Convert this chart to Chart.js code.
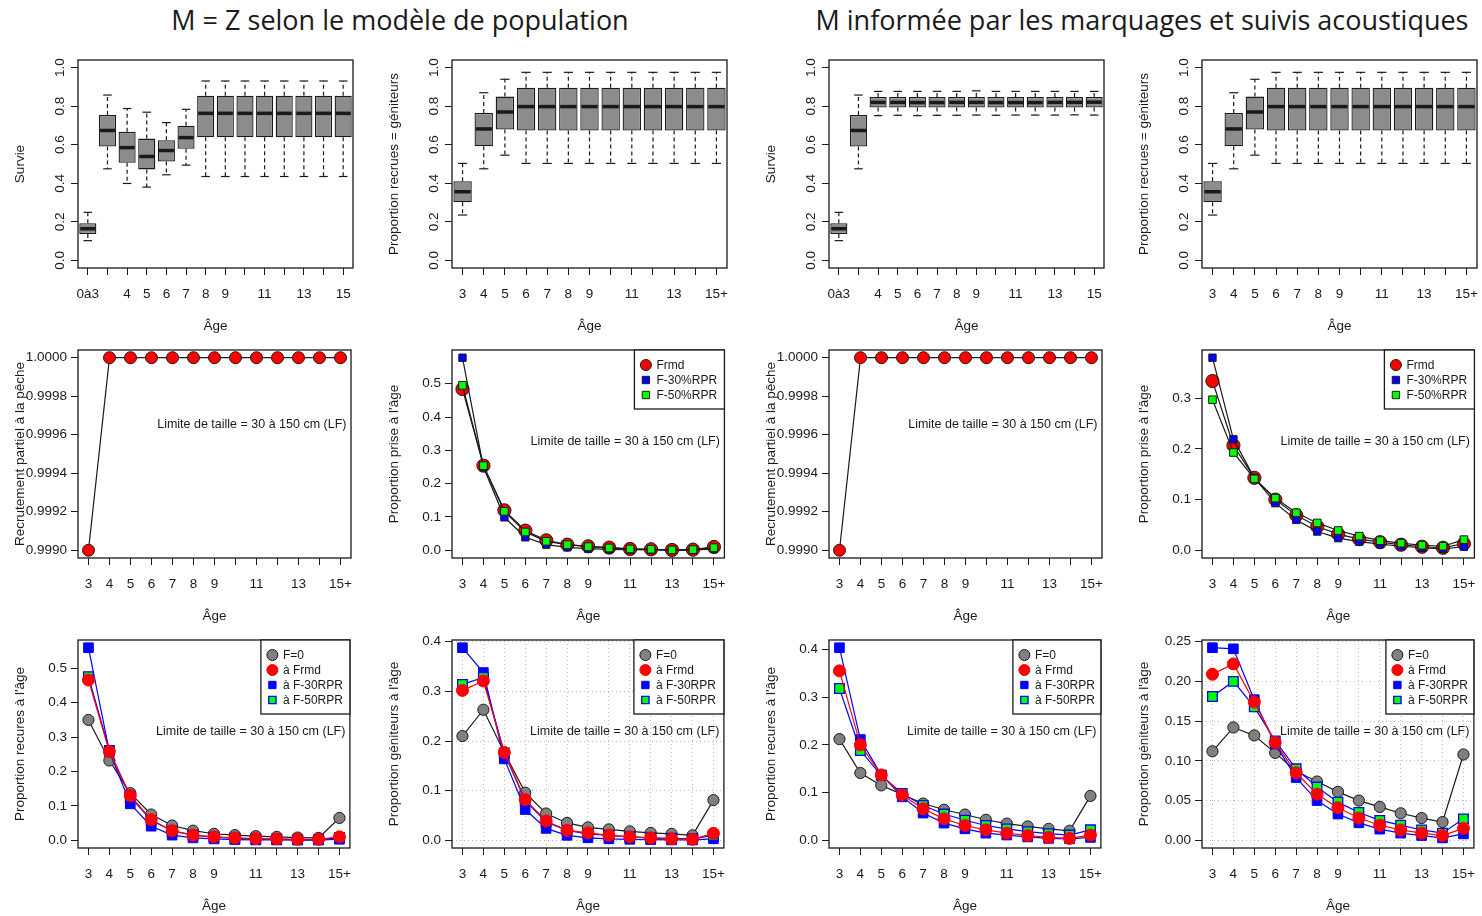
<!DOCTYPE html>
<html lang="fr">
<head>
<meta charset="utf-8">
<title>Survie, recrutement et proportions à l'âge</title>
<script src="https://cdn.jsdelivr.net/npm/chart.js@4.4.1/dist/chart.umd.min.js"></script>
<style>
  html, body { margin: 0; padding: 0; background: #fff; overflow: hidden; }
  body { width: 1482px; height: 916px; position: relative; }
  .title { position: absolute; top: 1px; font-family: "Open Sans", sans-serif; font-size: 27px; color: #1a1a1a; white-space: nowrap; transform: translateX(-50%); }
  .panel { position: absolute; width: 358px; height: 290px; }
</style>
</head>
<body>
<div class="title" style="left:400px">M = Z selon le modèle de population</div>
<div class="title" style="left:1142px">M informée par les marquages et suivis acoustiques</div>

<div class="panel" style="left:0;top:50px"><canvas id="p1"></canvas></div>
<div class="panel" style="left:374px;top:50px"><canvas id="p2"></canvas></div>
<div class="panel" style="left:751px;top:50px"><canvas id="p3"></canvas></div>
<div class="panel" style="left:1124px;top:50px"><canvas id="p4"></canvas></div>
<div class="panel" style="left:0;top:340px"><canvas id="p5"></canvas></div>
<div class="panel" style="left:374px;top:340px"><canvas id="p6"></canvas></div>
<div class="panel" style="left:751px;top:340px"><canvas id="p7"></canvas></div>
<div class="panel" style="left:1124px;top:340px"><canvas id="p8"></canvas></div>
<div class="panel" style="left:0;top:630px"><canvas id="p9"></canvas></div>
<div class="panel" style="left:374px;top:630px"><canvas id="p10"></canvas></div>
<div class="panel" style="left:751px;top:630px"><canvas id="p11"></canvas></div>
<div class="panel" style="left:1124px;top:630px"><canvas id="p12"></canvas></div>

<script>
// Categories and tick labels
const ageSurv = ['0à3', '3', '4', '5', '6', '7', '8', '9', '10', '11', '12', '13', '14', '15'];
const ageSurvShown = ['0à3', '4', '5', '6', '7', '8', '9', '11', '13', '15'];
const ages = ['3', '4', '5', '6', '7', '8', '9', '10', '11', '12', '13', '14', '15+'];
const agesShown = ['3', '4', '5', '6', '7', '8', '9', '11', '13', '15+'];

const ticksUnit = [0, 0.2, 0.4, 0.6, 0.8, 1.0];
const ticksSel = [0.9990, 0.9992, 0.9994, 0.9996, 0.9998, 1.0000];
const ticks05 = [0, 0.1, 0.2, 0.3, 0.4, 0.5];
const ticks04 = [0, 0.1, 0.2, 0.3, 0.4];
const ticks03 = [0, 0.1, 0.2, 0.3];
const ticks025 = [0, 0.05, 0.10, 0.15, 0.20, 0.25];

// Survie, M = Z (boxplots)
const survZ_min = [0.102, 0.475, 0.399, 0.380, 0.444, 0.494, 0.435, 0.435, 0.435, 0.435, 0.435, 0.435, 0.435, 0.435];
const survZ_q1 = [0.136, 0.591, 0.506, 0.472, 0.513, 0.579, 0.639, 0.639, 0.639, 0.639, 0.639, 0.639, 0.639, 0.639];
const survZ_med = [0.164, 0.674, 0.585, 0.539, 0.570, 0.637, 0.763, 0.763, 0.763, 0.763, 0.763, 0.763, 0.763, 0.763];
const survZ_q3 = [0.193, 0.755, 0.667, 0.632, 0.623, 0.699, 0.855, 0.855, 0.855, 0.855, 0.855, 0.855, 0.855, 0.855];
const survZ_max = [0.249, 0.858, 0.788, 0.769, 0.715, 0.784, 0.931, 0.931, 0.931, 0.931, 0.931, 0.931, 0.931, 0.931];

// Survie, M informée (boxplots)
const survM_min = [0.102, 0.475, 0.751, 0.753, 0.751, 0.753, 0.753, 0.754, 0.753, 0.754, 0.754, 0.754, 0.755, 0.754];
const survM_q1 = [0.136, 0.591, 0.793, 0.793, 0.793, 0.793, 0.793, 0.793, 0.793, 0.793, 0.793, 0.793, 0.793, 0.793];
const survM_med = [0.164, 0.674, 0.820, 0.820, 0.819, 0.819, 0.820, 0.820, 0.819, 0.819, 0.819, 0.820, 0.820, 0.821];
const survM_q3 = [0.193, 0.755, 0.848, 0.848, 0.848, 0.848, 0.848, 0.848, 0.848, 0.848, 0.848, 0.848, 0.848, 0.848];
const survM_max = [0.249, 0.858, 0.877, 0.877, 0.877, 0.877, 0.877, 0.880, 0.877, 0.877, 0.877, 0.877, 0.877, 0.877];

// Proportion recrues = géniteurs (boxplots, same in both scenarios)
const mat_min = [0.235, 0.475, 0.546, 0.503, 0.503, 0.503, 0.503, 0.503, 0.503, 0.503, 0.503, 0.503, 0.503];
const mat_q1 = [0.301, 0.592, 0.679, 0.674, 0.674, 0.674, 0.674, 0.674, 0.674, 0.674, 0.674, 0.674, 0.674];
const mat_med = [0.356, 0.682, 0.770, 0.798, 0.798, 0.798, 0.798, 0.798, 0.798, 0.798, 0.798, 0.798, 0.798];
const mat_q3 = [0.411, 0.765, 0.850, 0.896, 0.896, 0.896, 0.896, 0.896, 0.896, 0.896, 0.896, 0.896, 0.896];
const mat_max = [0.503, 0.870, 0.940, 0.976, 0.976, 0.976, 0.976, 0.976, 0.976, 0.976, 0.976, 0.976, 0.976];

// Recrutement partiel à la pêche
const selPartielle = [0.9990, 1, 1, 1, 1, 1, 1, 1, 1, 1, 1, 1, 1];

// Proportion prise à l'âge
const legendPrise = ['Frmd', 'F-30%RPR', 'F-50%RPR'];
const priseZ_Frmd = [0.484, 0.254, 0.120, 0.059, 0.030, 0.017, 0.012, 0.008, 0.004, 0.003, 0.001, 0.002, 0.010];
const priseZ_F30 = [0.578, 0.249, 0.099, 0.039, 0.017, 0.009, 0.005, 0.003, 0.002, 0.001, 0.0005, 0.0005, 0.004];
const priseZ_F50 = [0.495, 0.254, 0.117, 0.055, 0.027, 0.017, 0.011, 0.007, 0.004, 0.003, 0.001, 0.002, 0.008];
const priseM_Frmd = [0.334, 0.207, 0.143, 0.100, 0.069, 0.047, 0.032, 0.022, 0.016, 0.011, 0.007, 0.005, 0.013];
const priseM_F30 = [0.380, 0.219, 0.143, 0.093, 0.060, 0.037, 0.024, 0.017, 0.012, 0.008, 0.005, 0.003, 0.007];
const priseM_F50 = [0.297, 0.193, 0.141, 0.103, 0.074, 0.054, 0.039, 0.028, 0.019, 0.014, 0.010, 0.008, 0.021];

// Proportion recrues / géniteurs à l'âge
const legendStock = ['F=0', 'à Frmd', 'à F-30RPR', 'à F-50RPR'];
const recZ_F0 = [0.350, 0.232, 0.137, 0.075, 0.043, 0.028, 0.019, 0.015, 0.012, 0.010, 0.008, 0.007, 0.065];
const recZ_Frmd = [0.466, 0.258, 0.130, 0.060, 0.028, 0.015, 0.010, 0.007, 0.005, 0.004, 0.003, 0.003, 0.010];
const recZ_F30 = [0.560, 0.258, 0.106, 0.041, 0.015, 0.007, 0.004, 0.002, 0.001, 0.001, 0.0005, 0.0005, 0.003];
const recZ_F50 = [0.476, 0.261, 0.126, 0.058, 0.027, 0.015, 0.009, 0.006, 0.004, 0.003, 0.002, 0.002, 0.008];

const genZ_F0 = [0.210, 0.263, 0.177, 0.096, 0.054, 0.035, 0.026, 0.022, 0.018, 0.015, 0.013, 0.010, 0.081];
const genZ_Frmd = [0.302, 0.321, 0.177, 0.082, 0.039, 0.020, 0.015, 0.010, 0.007, 0.005, 0.003, 0.002, 0.014];
const genZ_F30 = [0.388, 0.338, 0.164, 0.062, 0.024, 0.010, 0.005, 0.003, 0.002, 0.0014, 0.0007, 0.0007, 0.003];
const genZ_F50 = [0.314, 0.328, 0.176, 0.080, 0.037, 0.020, 0.013, 0.010, 0.007, 0.005, 0.004, 0.003, 0.010];

const recM_F0 = [0.212, 0.141, 0.115, 0.096, 0.077, 0.064, 0.054, 0.043, 0.035, 0.029, 0.024, 0.020, 0.093];
const recM_Frmd = [0.355, 0.200, 0.137, 0.095, 0.066, 0.045, 0.031, 0.022, 0.015, 0.010, 0.006, 0.004, 0.011];
const recM_F30 = [0.4035, 0.211, 0.137, 0.091, 0.057, 0.036, 0.024, 0.015, 0.011, 0.007, 0.004, 0.003, 0.006];
const recM_F50 = [0.318, 0.188, 0.136, 0.098, 0.073, 0.055, 0.042, 0.031, 0.024, 0.018, 0.014, 0.011, 0.022];

const genM_F0 = [0.112, 0.142, 0.132, 0.110, 0.087, 0.074, 0.061, 0.050, 0.042, 0.034, 0.028, 0.023, 0.108];
const genM_Frmd = [0.209, 0.222, 0.174, 0.123, 0.085, 0.058, 0.041, 0.028, 0.019, 0.013, 0.009, 0.006, 0.015];
const genM_F30 = [0.2424, 0.241, 0.177, 0.121, 0.079, 0.050, 0.033, 0.022, 0.014, 0.009, 0.006, 0.003, 0.008];
const genM_F50 = [0.181, 0.200, 0.168, 0.125, 0.090, 0.067, 0.048, 0.035, 0.025, 0.019, 0.013, 0.009, 0.027];

const noteText = 'Limite de taille = 30 à 150 cm (LF)';

// ---- look ----
const INK = '#1a1a1a';
Chart.defaults.font.family = "'Liberation Sans', Arial, sans-serif";
Chart.defaults.font.size = 13.5;
Chart.defaults.color = INK;
Chart.defaults.animation = false;

// marker styles, R-like
const row2Styles = [
  { shape: 'circle', r: 6.6, fill: '#ff0000', edge: INK, bw: 1, line: INK, order: 2 },
  { shape: 'rect', r: 5.2, fill: '#0000ff', edge: INK, bw: 1, line: INK, order: 1 },
  { shape: 'rect', r: 5.4, fill: '#00ff00', edge: INK, bw: 1, line: INK, order: 0 }
];
const row3Styles = [
  { shape: 'circle', r: 5.6, fill: '#808080', edge: INK, bw: 1, line: INK, order: 3 },
  { shape: 'circle', r: 6, fill: '#ff0000', edge: '#ff0000', bw: 1, line: '#ff0000', order: 0 },
  { shape: 'rect', r: 6.8, fill: '#0000ff', edge: '#0000ff', bw: 1, line: '#0000ff', order: 2 },
  { shape: 'rect', r: 6.8, fill: '#00ff00', edge: '#0000ff', bw: 1.3, line: '#0000ff', order: 1 }
];

// R ylim: range extended by 4 %
function rLim(lo, hi) {
  const pad = (hi - lo) * 0.04;
  return [lo - pad, hi + pad];
}

// box around the plot region
const rFrame = {
  id: 'rFrame',
  afterDraw(chart) {
    const { ctx, chartArea: a } = chart;
    ctx.save();
    ctx.strokeStyle = INK;
    ctx.lineWidth = 1.3;
    ctx.strokeRect(a.left, a.top, a.right - a.left, a.bottom - a.top);
    ctx.restore();
  }
};

// whiskers, caps and median for the boxplot panels
const rBox = {
  id: 'rBox',
  afterDatasetsDraw(chart) {
    const ds = chart.data.datasets[0];
    if (!ds.stats) return;
    const { ctx } = chart;
    const y = chart.scales.y;
    const st = ds.stats;
    const seg = (x1, y1, x2, y2) => { ctx.beginPath(); ctx.moveTo(x1, y1); ctx.lineTo(x2, y2); ctx.stroke(); };
    ctx.save();
    ctx.strokeStyle = INK;
    chart.getDatasetMeta(0).data.forEach((bar, i) => {
      const cx = bar.x, half = bar.width / 2;
      const yMin = y.getPixelForValue(st.min[i]), yMax = y.getPixelForValue(st.max[i]);
      const yQ1 = y.getPixelForValue(st.q1[i]), yQ3 = y.getPixelForValue(st.q3[i]);
      ctx.lineWidth = 1.2;
      ctx.setLineDash([4, 3]);
      seg(cx, yQ3, cx, yMax);
      seg(cx, yQ1, cx, yMin);
      ctx.setLineDash([]);
      seg(cx - half * 0.5, yMax, cx + half * 0.5, yMax);
      seg(cx - half * 0.5, yMin, cx + half * 0.5, yMin);
      ctx.lineWidth = 3.5;
      const yMed = y.getPixelForValue(st.med[i]);
      seg(cx - half + 1, yMed, cx + half - 1, yMed);
    });
    ctx.restore();
  }
};

// R-style legend, top right inside the plot region
const rLegend = {
  id: 'rLegend',
  afterDraw(chart, args, opts) {
    if (!opts.show) return;
    const { ctx, chartArea: a } = chart;
    const items = chart.data.datasets;
    const h = 15 + (items.length - 1) * 15 + 14;
    const left = a.right - opts.width, top = a.top;
    ctx.save();
    ctx.fillStyle = '#fff';
    ctx.fillRect(left, top, opts.width, h);
    ctx.strokeStyle = INK;
    ctx.lineWidth = 1.3;
    ctx.strokeRect(left, top, opts.width, h);
    ctx.font = "12px 'Liberation Sans', Arial, sans-serif";
    ctx.textBaseline = 'middle';
    items.forEach((d, i) => {
      const cy = top + 15 + i * 15;
      ctx.fillStyle = d.pointBackgroundColor;
      ctx.strokeStyle = d.pointBorderColor;
      ctx.lineWidth = d.pointBorderWidth;
      Chart.helpers.drawPoint(ctx, { pointStyle: d.pointStyle, radius: d.legendRadius, rotation: 0, borderWidth: d.pointBorderWidth }, left + 11.5, cy);
      ctx.fillStyle = INK;
      ctx.fillText(d.label, left + 22, cy + 0.5);
    });
    ctx.restore();
  }
};

// text note inside the plot region
const rNote = {
  id: 'rNote',
  afterDraw(chart, args, opts) {
    if (!opts.text) return;
    const { ctx, chartArea: a } = chart;
    ctx.save();
    ctx.font = "12.5px 'Liberation Sans', Arial, sans-serif";
    ctx.fillStyle = INK;
    ctx.textAlign = 'right';
    ctx.textBaseline = 'middle';
    ctx.fillText(opts.text, a.right - 4.5, a.top + opts.dy);
    ctx.restore();
  }
};

function axisX(labels, shown, grid) {
  return {
    type: 'category',
    labels: labels,
    offset: true,
    z: grid ? 1 : 0,
    grid: { offset: false, drawOnChartArea: grid, color: '#bdbdbd', tickColor: INK, tickLength: 7, tickWidth: 1, tickBorderDash: [] },
    border: { display: false, dash: grid ? [1, 3] : [] },
    ticks: {
      autoSkip: false, minRotation: 0, maxRotation: 0, padding: 11,
      callback(v) { const l = this.getLabelForValue(v); return shown.includes(l) ? l : ''; }
    },
    title: { display: true, text: 'Âge', padding: { top: 0, bottom: 6 } },
    afterFit(s) { s.height = 72; s.paddingLeft = 0; s.paddingRight = 0; }
  };
}

function axisY(title, lim, tickVals, digits, rotate, grid) {
  return {
    type: 'linear',
    min: lim[0],
    max: lim[1],
    z: grid ? 1 : 0,
    afterBuildTicks(s) { s.ticks = tickVals.map(v => ({ value: v })); },
    grid: { drawOnChartArea: grid, color: '#bdbdbd', tickColor: INK, tickLength: 7, tickWidth: 1, tickBorderDash: [] },
    border: { display: false, dash: grid ? [1, 3] : [] },
    ticks: {
      autoSkip: false,
      minRotation: rotate ? 90 : 0,
      maxRotation: rotate ? 90 : 0,
      crossAlign: rotate ? 'center' : 'near',
      padding: rotate ? 1 : 4,
      callback: v => Number(v).toFixed(digits)
    },
    title: { display: true, text: title, padding: { top: 12, bottom: 0 } },
    afterFit(s) { s.width = 78; s.paddingTop = 0; s.paddingBottom = 0; }
  };
}

const baseOptions = () => ({
  responsive: true,
  maintainAspectRatio: false,
  events: [],
  layout: { padding: { top: 10, right: 5, bottom: 0, left: 0 } }
});

function boxChart(id, yTitle, labels, shown, stats) {
  const opts = baseOptions();
  opts.scales = { x: axisX(labels, shown, false), y: axisY(yTitle, rLim(0, 1), ticksUnit, 1, true, false) };
  opts.plugins = { legend: { display: false }, tooltip: { enabled: false } };
  new Chart(document.getElementById(id), {
    type: 'bar',
    data: {
      labels: labels,
      datasets: [{
        data: stats.q1.map((v, i) => [v, stats.q3[i]]),
        stats: stats,
        backgroundColor: '#8c8c8c',
        borderColor: INK,
        borderWidth: 1.3,
        borderSkipped: false,
        barPercentage: 0.87,
        categoryPercentage: 1
      }]
    },
    options: opts,
    plugins: [rFrame, rBox]
  });
}

function lineChart(id, cfg) {
  const opts = baseOptions();
  opts.scales = {
    x: axisX(ages, agesShown, cfg.grid),
    y: axisY(cfg.yTitle, cfg.lim, cfg.ticks, cfg.digits, false, cfg.grid)
  };
  opts.plugins = {
    legend: { display: false },
    tooltip: { enabled: false },
    rLegend: { show: !!cfg.names, width: cfg.legendWidth || 90 },
    rNote: { text: noteText, dy: cfg.noteDy }
  };
  const datasets = cfg.series.map((data, i) => {
    const s = cfg.styles[i];
    return {
      label: cfg.names ? cfg.names[i] : '',
      data: data,
      borderColor: s.line,
      borderWidth: 1.2,
      tension: 0,
      clip: false,
      pointStyle: s.shape,
      pointRadius: s.r,
      legendRadius: s.shape === 'rect' ? 5.2 : 5.5,
      pointBackgroundColor: s.fill,
      pointBorderColor: s.edge,
      pointBorderWidth: s.bw,
      order: s.order
    };
  });
  new Chart(document.getElementById(id), {
    type: 'line',
    data: { labels: ages, datasets: datasets },
    options: opts,
    plugins: [rFrame, rLegend, rNote]
  });
}

// Row 1: boxplots
boxChart('p1', 'Survie', ageSurv, ageSurvShown,
  { min: survZ_min, q1: survZ_q1, med: survZ_med, q3: survZ_q3, max: survZ_max });
boxChart('p2', 'Proportion recrues = géniteurs', ages, agesShown,
  { min: mat_min, q1: mat_q1, med: mat_med, q3: mat_q3, max: mat_max });
boxChart('p3', 'Survie', ageSurv, ageSurvShown,
  { min: survM_min, q1: survM_q1, med: survM_med, q3: survM_q3, max: survM_max });
boxChart('p4', 'Proportion recrues = géniteurs', ages, agesShown,
  { min: mat_min, q1: mat_q1, med: mat_med, q3: mat_q3, max: mat_max });

// Row 2: selectivity and catch at age
const selStyle = [{ shape: 'circle', r: 6, fill: '#ff0000', edge: INK, bw: 1, line: INK, order: 0 }];
lineChart('p5', { yTitle: 'Recrutement partiel à la pêche', series: [selPartielle], styles: selStyle,
  lim: rLim(0.9990, 1.0000), ticks: ticksSel, digits: 4, grid: false, noteDy: 75 });
lineChart('p6', { yTitle: "Proportion prise à l'âge", series: [priseZ_Frmd, priseZ_F30, priseZ_F50], styles: row2Styles,
  names: legendPrise, lim: rLim(0, Math.max(...priseZ_Frmd, ...priseZ_F30, ...priseZ_F50)), ticks: ticks05, digits: 1,
  grid: false, noteDy: 91.7, legendWidth: 90 });
lineChart('p7', { yTitle: 'Recrutement partiel à la pêche', series: [selPartielle], styles: selStyle,
  lim: rLim(0.9990, 1.0000), ticks: ticksSel, digits: 4, grid: false, noteDy: 75 });
lineChart('p8', { yTitle: "Proportion prise à l'âge", series: [priseM_Frmd, priseM_F30, priseM_F50], styles: row2Styles,
  names: legendPrise, lim: rLim(0, Math.max(...priseM_Frmd, ...priseM_F30, ...priseM_F50)), ticks: ticks03, digits: 1,
  grid: false, noteDy: 91.7, legendWidth: 90 });

// Row 3: recruits and spawners at age
lineChart('p9', { yTitle: "Proportion recures à l'âge", series: [recZ_F0, recZ_Frmd, recZ_F30, recZ_F50], styles: row3Styles,
  names: legendStock, lim: rLim(0, Math.max(...recZ_F0, ...recZ_Frmd, ...recZ_F30, ...recZ_F50)), ticks: ticks05, digits: 1,
  grid: false, noteDy: 91.7, legendWidth: 89 });
lineChart('p10', { yTitle: "Proportion géniteurs à l'âge", series: [genZ_F0, genZ_Frmd, genZ_F30, genZ_F50], styles: row3Styles,
  names: legendStock, lim: rLim(0, Math.max(...genZ_F0, ...genZ_Frmd, ...genZ_F30, ...genZ_F50)), ticks: ticks04, digits: 1,
  grid: true, noteDy: 91.7, legendWidth: 90 });
lineChart('p11', { yTitle: "Proportion recures à l'âge", series: [recM_F0, recM_Frmd, recM_F30, recM_F50], styles: row3Styles,
  names: legendStock, lim: rLim(0, Math.max(...recM_F0, ...recM_Frmd, ...recM_F30, ...recM_F50)), ticks: ticks04, digits: 1,
  grid: false, noteDy: 91.7, legendWidth: 88 });
lineChart('p12', { yTitle: "Proportion géniteurs à l'âge", series: [genM_F0, genM_Frmd, genM_F30, genM_F50], styles: row3Styles,
  names: legendStock, lim: rLim(0, Math.max(...genM_F0, ...genM_Frmd, ...genM_F30, ...genM_F50)), ticks: ticks025, digits: 2,
  grid: true, noteDy: 91.7, legendWidth: 88 });
</script>
</body>
</html>
